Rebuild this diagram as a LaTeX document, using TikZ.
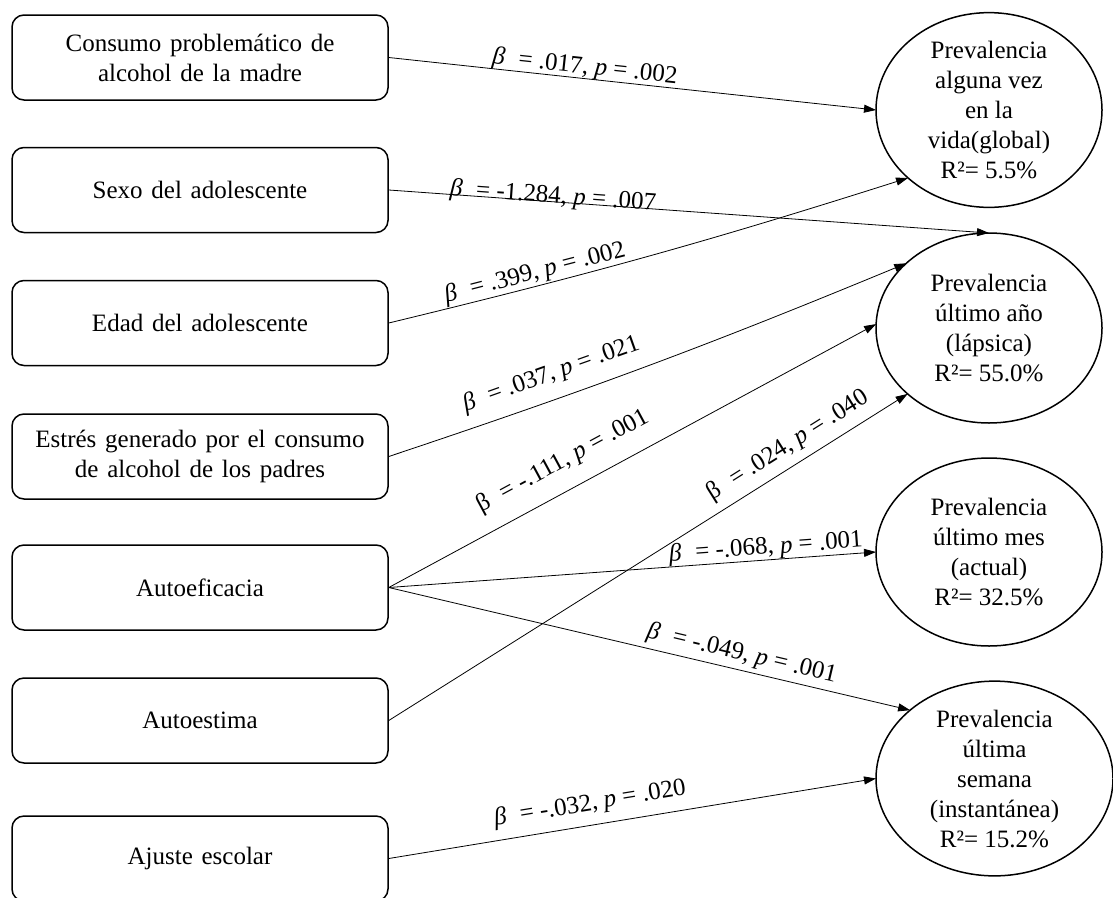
\documentclass[tikz,border=0pt]{standalone}
\usepackage{fontspec}
\setmainfont{Liberation Serif}
\newfontfamily\boxfont[WordSpace=1.4]{Liberation Serif}
\usetikzlibrary{shapes.geometric,arrows.meta}
% coefficient label: beta (italic or upright) and p value
\newcommand{\coefit}[2]{\textit{β}\hspace{0.55em}= #1, \textit{p} = #2}
\newcommand{\coefup}[2]{β\hspace{0.55em}= #1, \textit{p} = #2}
\begin{document}
\begin{tikzpicture}[x=1pt,y=-1pt,
  txt/.style={font=\fontsize{25}{30}\selectfont},
  predictor/.style={font=\boxfont\fontsize{25}{30}\selectfont, draw,
    line width=1.5pt, rounded corners=12pt,
    minimum width=376pt, minimum height=85pt, inner sep=0pt, align=center},
  outcome/.style={txt, draw, ellipse, line width=1.5pt, inner sep=0pt,
    outer sep=0pt, align=center},
  link/.style={-{Triangle[length=12pt,width=8pt]}, line width=0.8pt},
  coef/.style={txt, sloped, inner sep=0pt, anchor=center}
]
\useasboundingbox (0,0) rectangle (1113,897);
\clip (0,0) rectangle (1113,897);

% predictors
\node[predictor] (b1) at (200,57.5) {Consumo problemático de\\alcohol de la madre};
\node[predictor] (b2) at (200,190)  {Sexo del adolescente};
\node[predictor] (b3) at (200,323)  {Edad del adolescente};
\node[predictor] (b4) at (200,456.5){Estrés generado por el consumo\\de alcohol de los padres};
\node[predictor] (b5) at (200,587.5){Autoeficacia};
\node[predictor] (b6) at (200,720.5){Autoestima};
\node[predictor] (b7) at (200,858.5){Ajuste escolar};

% outcomes
\node[outcome, minimum width=226pt, minimum height=190pt] (e1) at (989,110)
  {Prevalencia\\alguna vez\\en la\\vida(global)\\R²= 5.5\%};
\node[outcome, minimum width=226pt, minimum height=190pt] (e2) at (989,328)
  {Prevalencia\\último año\\(lápsica)\\R²= 55.0\%};
\node[outcome, minimum width=226pt, minimum height=188pt] (e3) at (989,552)
  {Prevalencia\\último mes\\(actual)\\R²= 32.5\%};
\node[outcome, minimum width=237pt, minimum height=187pt] (e4) at (994.5,778.5)
  {Prevalencia\\última\\semana\\(instantánea)\\R²= 15.2\%};

% paths
\draw[link] (b1.east) -- (e1.west)
  node[coef, pos=0.40, yshift=11pt] {\coefit{.017}{.002}};
\draw[link] (b2.east) -- (e2.north)
  node[coef, pos=0.273, yshift=5pt] {\coefit{-1.284}{.007}};
\draw[link] (b3.east) to[bend right=2]
  node[coef, pos=0.27, yshift=13pt] {\coefit{.399}{.002}} (e1.220);
\draw[link] (b4.east) to[bend right=2]
  node[coef, pos=0.313, yshift=25pt] {\coefit{.037}{.021}} (e2.142);
\draw[link] (b5.east) -- (e2.178)
  node[coef, pos=0.385, yshift=28pt] {\coefup{-.111}{.001}};
\draw[link] (b6.east) -- (e2.219)
  node[coef, pos=0.79, yshift=20pt] {\coefup{.024}{.040}};
\draw[link] (b5.east) -- (e3.west)
  node[coef, pos=0.776, yshift=12pt] {\coefit{-.068}{.001}};
\draw[link] (b5.east) -- (e4.141)
  node[coef, pos=0.67, yshift=16pt] {\coefit{-.049}{.001}};
\draw[link] (b7.east) -- (e4.west)
  node[coef, pos=0.42, yshift=21pt] {\coefit{-.032}{.020}};
\end{tikzpicture}
\end{document}
